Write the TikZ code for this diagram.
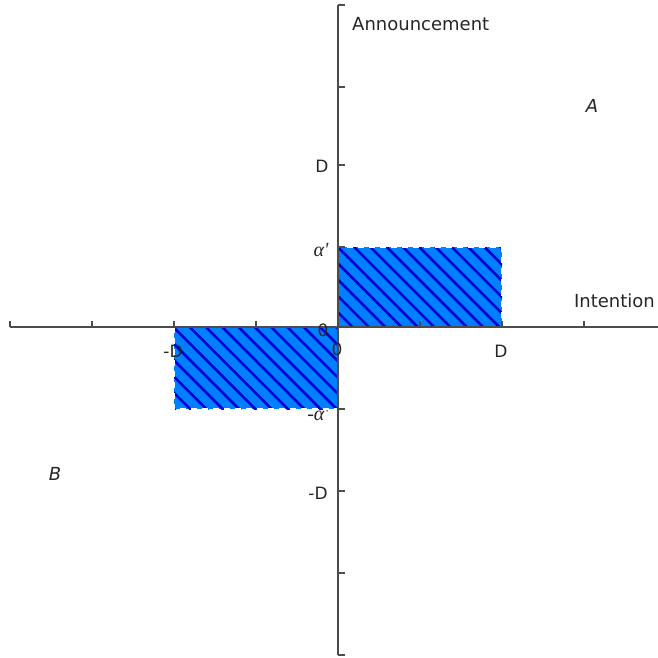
\documentclass[tikz,border=0pt]{standalone}
\usepackage{fontspec}
\setmainfont{DejaVu Sans}
\newfontfamily\grkfont{Liberation Serif}
\begin{document}
\begin{tikzpicture}[x=1pt,y=-1pt,
  axis/.style={draw=black!70, line width=1.2pt},
  lab/.style={font=\fontsize{17}{19}\selectfont, text=black!85, inner sep=0pt},
  glab/.style={font=\fontsize{20}{22}\selectfont\grkfont\itshape, text=black!85, inner sep=0pt},
  title/.style={font=\fontsize{18}{20}\selectfont, text=black!85, inner sep=0pt},
  region/.style={fill={rgb,255:red,0;green,128;blue,255}},
  hatch/.style={draw={rgb,255:red,0;green,0;blue,215}, line width=2.6pt},
  border/.style={draw=white, line width=1.4pt, dash pattern=on 6pt off 5pt}]
\useasboundingbox (0,0) rectangle (658,657);
% label hidden partly under the region
\node[glab] (malpha) at (318,414) {-α'};
% regions
\begin{scope}
  \clip (338,247) rectangle (502,327);
  \fill[region] (338,247) rectangle (502,327);
  \foreach \k in {-18,...,18} {
    \pgfmathsetmacro{\c}{-7+16.3*\k}
    \draw[hatch] (\c+200,200) -- (\c+450,450);
  }
\end{scope}
\begin{scope}
  \clip (174,327) rectangle (338,409);
  \fill[region] (174,327) rectangle (338,409);
  \foreach \k in {-18,...,18} {
    \pgfmathsetmacro{\c}{-7+16.3*\k}
    \draw[hatch] (\c+200,200) -- (\c+450,450);
  }
\end{scope}
\draw[border] (338,247) rectangle (502,327);
\draw[border] (174,327) rectangle (338,409);
% axes
\coordinate (xl) at (10,327);
\coordinate (xr) at (658,327);
\coordinate (yt) at (338,5);
\coordinate (yb) at (338,655);
\draw[axis] (xl) -- (xr);
\draw[axis] (yt) -- (yb);
\foreach \x in {10,92,174,256,338,420,502,584}
  \draw[axis] (\x,327) -- (\x,321);
\foreach \y in {5,87,165,247,327,409,491,573,655}
  \draw[axis] (338,\y) -- (345,\y);
% tick labels
\node[lab] (yD) at (322,166) {D};
\node[glab] (yal) at (321,250) {α'};
\node[lab] (y0) at (323,330) {0};
\node[lab] (ymD) at (318,493) {-D};
\node[lab] (xmD) at (173,351) {-D};
\node[lab] (x0) at (337,349) {0};
\node[lab] (xD) at (501,351) {D};
% titles
\node[title, anchor=west] (ann) at (352,24) {Announcement};
\node[title, anchor=east] (int) at (655,301) {Intention};
\node[title] (A) at (592,106) {\itshape A};
\node[title] (B) at (55,474) {\itshape B};
\end{tikzpicture}
\end{document}
